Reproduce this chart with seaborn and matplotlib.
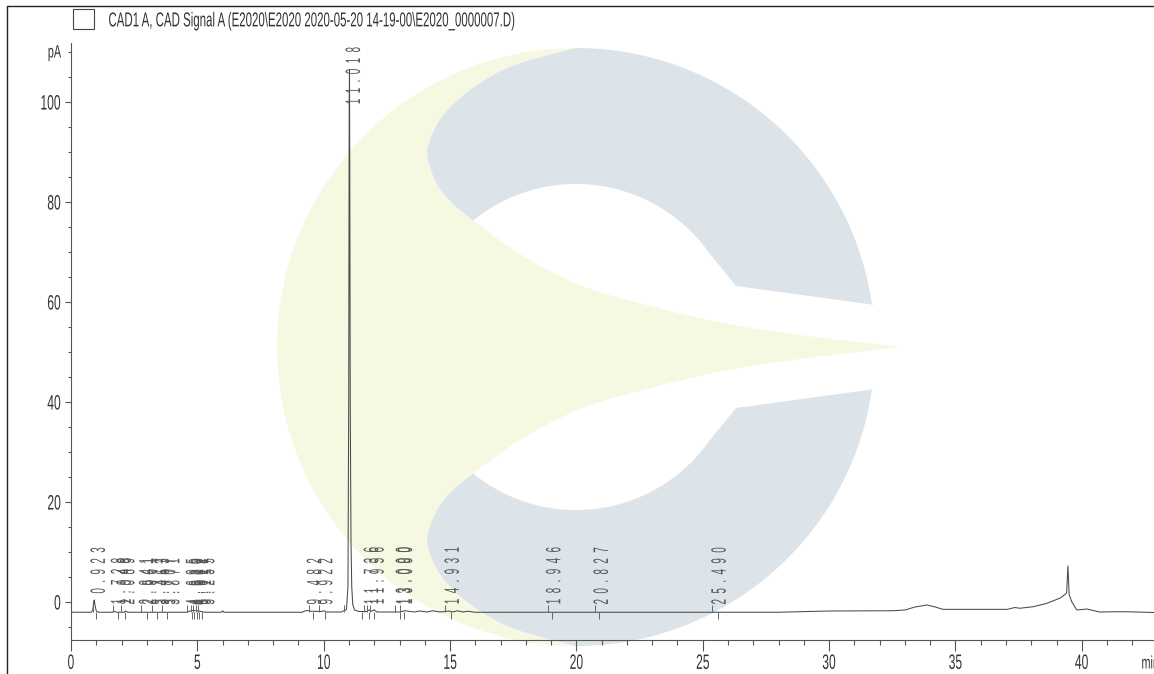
#-----------------------------------------------------------------
# Required Python Packages
#-----------------------------------------------------------------

import numpy as np
import pandas as pd
import matplotlib
matplotlib.use("Agg")
import matplotlib.pyplot as plt
from matplotlib.lines import Line2D
from matplotlib.patches import Polygon, Rectangle
from matplotlib.patheffects import AbstractPathEffect
from matplotlib.ticker import MultipleLocator
from matplotlib.transforms import Affine2D
import seaborn as sns

#-----------------------------------------------------------------
# Chart data
#-----------------------------------------------------------------

TITLE = "CAD1 A, CAD Signal A (E2020\\E2020 2020-05-20 14-19-00\\E2020_0000007.D)"

# Trace, retention time in min and signal in pA
TIME = [0, 0.80, 0.86, 0.90, 0.92, 0.95, 1.00, 1.10, 1.65, 1.70, 1.80, 2.10, 2.15, 2.25,
        4.60, 4.70, 4.85, 5.00, 5.10, 5.30, 5.95, 6.00, 6.05, 9.15, 9.25, 9.35, 9.50, 9.90,
        10.00, 10.10, 10.70, 10.80, 10.90, 10.96, 10.99, 11.01, 11.02, 11.03, 11.05, 11.08,
        11.11, 11.15, 11.22, 11.40, 11.70, 11.80, 11.90, 12.00, 12.10, 13.00, 13.20, 13.60,
        13.80, 14.10, 14.30, 14.60, 14.95, 15.10, 15.30, 15.50, 15.70, 16.00, 16.40, 28.00,
        30.00, 32.50, 33.00, 33.40, 33.87, 34.20, 34.50, 37.05, 37.35, 37.55, 38.07, 38.60,
        39.15, 39.40, 39.45, 39.50, 39.60, 39.80, 40.20, 40.70, 41.40, 41.75, 42.86]
SIGNAL = [-2.05, -2.05, -1.7, 0.0, 0.4, -0.6, -1.8, -2.05, -2.05, -1.8, -2.05, -2.05, -1.8, -2.05,
          -2.05, -1.8, -1.7, -1.75, -1.85, -2.05, -2.05, -1.75, -2.05, -2.05, -1.8, -1.7, -1.85, -1.9,
          -1.75, -2.0, -2.0, -1.75, -1.5, 3.0, 40.0, 100.0, 106.5, 90.0, 40.0, 12.0,
          3.0, -0.5, -1.6, -1.9, -1.9, -1.6, -1.85, -1.55, -2.0, -2.0, -1.75, -2.0,
          -1.8, -2.0, -1.75, -2.0, -1.8, -2.0, -1.75, -2.0, -1.85, -2.05, -2.05, -2.05,
          -1.8, -1.75, -1.6, -1.0, -0.6, -1.0, -1.47, -1.47, -1.1, -1.25, -0.95, -0.3,
          0.8, 1.8, 7.2, 1.5, 0.07, -1.6, -1.4, -2.0, -1.95, -1.95, -2.1]

# Peak annotations, label text comes from the retention time
RETENTION = [0.923, 1.728, 1.948, 2.089, 2.841, 2.961, 3.317, 3.463, 3.707, 3.871,
             4.695, 4.810, 4.902, 5.011, 5.117, 5.255, 9.482, 9.922, 11.018,
             11.736, 11.956, 13.000, 13.080, 14.931, 18.946, 20.827, 25.490]
LABEL_BASE = [1.6, -0.6, -0.6, -0.6, -0.6, -0.6, -0.6, -0.6, -0.6, -0.6,
              -0.6, -0.6, -0.6, -0.6, -0.6, -0.6, -0.6, -0.6, 99.4,
              -0.6, -0.6, -0.6, -0.6, -0.6, -0.6, -0.6, -0.6]

# Integration marks, start above the baseline and stop below it
PEAK_START = [0.88, 1.65, 1.98, 2.76, 3.22, 3.59, 4.58, 4.75, 4.84, 4.95, 5.04,
              9.41, 9.81, 10.82, 11.58, 11.72, 11.85, 12.82, 13.00, 14.80, 18.87, 20.72, 25.37]
PEAK_STOP = [0.99, 1.87, 2.14, 3.00, 3.42, 3.79, 4.78, 4.87, 4.97, 5.08, 5.20,
             9.58, 10.05, 11.52, 11.80, 12.00, 13.00, 13.18, 15.05, 19.05, 20.88, 25.59]

# Watermark outline, in picture pixels
LOGO_CENTER = (576, 347)
LOGO_OUTER_R = 299
LOGO_INNER_R = 163
YELLOW_UPPER = [(900, 347), (800, 335), (723, 323), (650, 306), (580, 285), (520, 254), (475, 222)]
YELLOW_LOWER = [(475, 472), (520, 440), (580, 409), (650, 388), (723, 371), (800, 359), (900, 347)]
BLUE_TOP_LEFT = [(576, 48), (512, 66), (470, 90), (442, 117), (429, 143), (428, 160),
                 (437, 184), (452, 203), (475, 222)]
BLUE_LOW_LEFT = [(475, 472), (452, 491), (437, 510), (428, 534), (429, 551), (442, 577),
                 (470, 604), (512, 628), (576, 646)]

WIDTH = 1154
HEIGHT = 674
COLOR_YELLOW = "#f7f8e2"
COLOR_BLUE = "#dde4e9"
COLOR_INK = "#333333"

#-----------------------------------------------------------------
# Class Name  : Condense
# Description : Squeezes real text glyphs, the source font is narrow
#-----------------------------------------------------------------
class Condense(AbstractPathEffect):
    def __init__(self, sx=1.0, sy=1.0, ax=0.5, ay=0.5):
        super().__init__()
        self.sx, self.sy, self.ax, self.ay = sx, sy, ax, ay

    def draw_path(self, renderer, gc, tpath, affine, rgbFace=None):
        box = tpath.get_extents(affine)
        px = box.x0 + self.ax * box.width
        py = box.y0 + self.ay * box.height
        squeeze = Affine2D().translate(-px, -py).scale(self.sx, self.sy).translate(px, py)
        renderer.draw_path(gc, tpath, affine + squeeze, rgbFace)

#-----------------------------------------------------------------
# Function Name : smooth_curve
# Description   : Catmull-Rom curve through the given points
#-----------------------------------------------------------------
def smooth_curve(points, steps=16):
    pts = np.array(points, dtype=float)
    pts = np.vstack([pts[0], pts, pts[-1]])
    result = []
    for i in range(1, len(pts) - 2):
        p0, p1, p2, p3 = pts[i - 1], pts[i], pts[i + 1], pts[i + 2]
        for t in np.linspace(0, 1, steps, endpoint=False):
            result.append(0.5 * (2 * p1 + (p2 - p0) * t
                                 + (2 * p0 - 5 * p1 + 4 * p2 - p3) * t ** 2
                                 + (3 * p1 - p0 - 3 * p2 + p3) * t ** 3))
    result.append(pts[-2])
    return np.array(result)

#-----------------------------------------------------------------
# Function Name : arc
# Description   : Part of a circle round the logo centre, angles in degrees
#-----------------------------------------------------------------
def arc(radius, start, stop, steps=120):
    angles = np.radians(np.linspace(start, stop, steps))
    return np.column_stack([LOGO_CENTER[0] + radius * np.cos(angles),
                            LOGO_CENTER[1] + radius * np.sin(angles)])

#-----------------------------------------------------------------
# Function Name : draw_watermark
# Description   : Pale logo behind the plot, in pixel coordinates
#-----------------------------------------------------------------
def draw_watermark(fig):
    back = fig.add_axes([0, 0, 1, 1], zorder=0)
    back.set_xlim(0, WIDTH)
    back.set_ylim(HEIGHT, 0)
    back.axis("off")

    yellow = np.vstack([arc(LOGO_OUTER_R, 270, 90), smooth_curve(BLUE_LOW_LEFT)[::-1],
                        smooth_curve(YELLOW_LOWER), smooth_curve(YELLOW_UPPER),
                        smooth_curve(BLUE_TOP_LEFT)[::-1]])
    back.add_patch(Polygon(yellow, closed=True, facecolor=COLOR_YELLOW, edgecolor="none"))

    top = np.vstack([[(875, 305)], arc(LOGO_OUTER_R, -8, -90), smooth_curve(BLUE_TOP_LEFT),
                     arc(LOGO_INNER_R, 231, 325), [(736, 286)]])
    low = np.vstack([[(875, 389)], arc(LOGO_OUTER_R, 8, 90), smooth_curve(BLUE_LOW_LEFT)[::-1],
                     arc(LOGO_INNER_R, 129, 35), [(736, 408)]])
    back.add_patch(Polygon(top, closed=True, facecolor=COLOR_BLUE, edgecolor="none"))
    back.add_patch(Polygon(low, closed=True, facecolor=COLOR_BLUE, edgecolor="none"))

    # Frame of the report page and the empty legend box
    back.add_line(Line2D([7, 7], [6, HEIGHT], color="#222222", lw=1.0))
    back.add_line(Line2D([7, WIDTH], [6, 6], color="#222222", lw=1.0))
    back.add_patch(Rectangle((73, 9), 21, 20, facecolor="white", edgecolor="#444444", lw=0.8))
    return back

#-----------------------------------------------------------------
# Function Name : spaced
# Description   : Retention time written with gaps between characters
#-----------------------------------------------------------------
def spaced(value):
    return "  ".join(f"{value:.3f}")

#-----------------------------------------------------------------
# Function Name : main
# Description   : Builds the chromatogram and saves out.png
#-----------------------------------------------------------------
def main():
    sns.set_style("ticks")
    plt.rcParams["font.family"] = ["Liberation Sans", "DejaVu Sans"]

    fig = plt.figure(figsize=(WIDTH / 100, HEIGHT / 100), dpi=100)
    back = draw_watermark(fig)
    back.text(108, 21, TITLE, fontsize=14.5, color=COLOR_INK, ha="left", va="center",
              path_effects=[Condense(sx=0.57, ax=0.0)])

    ax = fig.add_axes([71 / WIDTH, 1 - 640 / HEIGHT, 1 - 71 / WIDTH, (640 - 43) / HEIGHT], zorder=1)
    ax.patch.set_alpha(0)

    trace = pd.DataFrame({"time": TIME, "signal": SIGNAL})
    sns.lineplot(data=trace, x="time", y="signal", ax=ax, estimator=None, sort=False,
                 color="#4a4a4a", lw=0.75, errorbar=None)

    ax.vlines(PEAK_START, -2.05, -0.6, color="#666666", lw=0.7)
    ax.vlines(PEAK_STOP, -2.05, -3.45, color="#666666", lw=0.7)

    for rt, base in zip(RETENTION, LABEL_BASE):
        ax.text(rt + 0.2, base, spaced(rt), rotation=90, ha="center", va="bottom",
                fontsize=15, color="#555555", path_effects=[Condense(sy=0.47, ay=0.0)])

    ax.set_xlim(0, (WIDTH - 71) / 25.27)
    ax.set_ylim(-7.6, (602 - 43) / 5)
    ax.set_xlabel("")
    ax.set_ylabel("")

    ax.xaxis.set_major_locator(MultipleLocator(5))
    ax.xaxis.set_minor_locator(MultipleLocator(1))
    ax.yaxis.set_major_locator(MultipleLocator(20))
    ax.yaxis.set_minor_locator(MultipleLocator(5))
    ax.tick_params(axis="x", which="major", length=8, width=0.8, color="#555555", pad=2)
    ax.tick_params(axis="x", which="minor", length=3.8, width=0.8, color="#555555")
    ax.tick_params(axis="y", which="major", length=4, width=0.8, color="#555555", pad=3)
    ax.tick_params(axis="y", which="minor", length=2.5, width=0.8, color="#555555")
    for label in ax.get_xticklabels():
        label.set_fontsize(15)
        label.set_color(COLOR_INK)
        label.set_path_effects([Condense(sx=0.58, ax=0.5)])
    for label in ax.get_yticklabels():
        label.set_fontsize(15)
        label.set_color(COLOR_INK)
        label.set_path_effects([Condense(sx=0.58, ax=1.0)])

    ax.spines["top"].set_visible(False)
    ax.spines["right"].set_visible(False)
    ax.spines["left"].set_color("#555555")
    ax.spines["bottom"].set_color("#555555")

    back.text(1141, 664, "min", fontsize=13, color=COLOR_INK, ha="left", va="center",
              path_effects=[Condense(sx=0.6, ax=0.0)])
    back.text(61, 53, "pA", fontsize=13, color=COLOR_INK, ha="right", va="center",
              path_effects=[Condense(sx=0.6, ax=1.0)])

    fig.savefig("out.png", dpi=100)

#------------------------------------------------------------------
# Application starter
#------------------------------------------------------------------
if __name__ == "__main__":
    main()
